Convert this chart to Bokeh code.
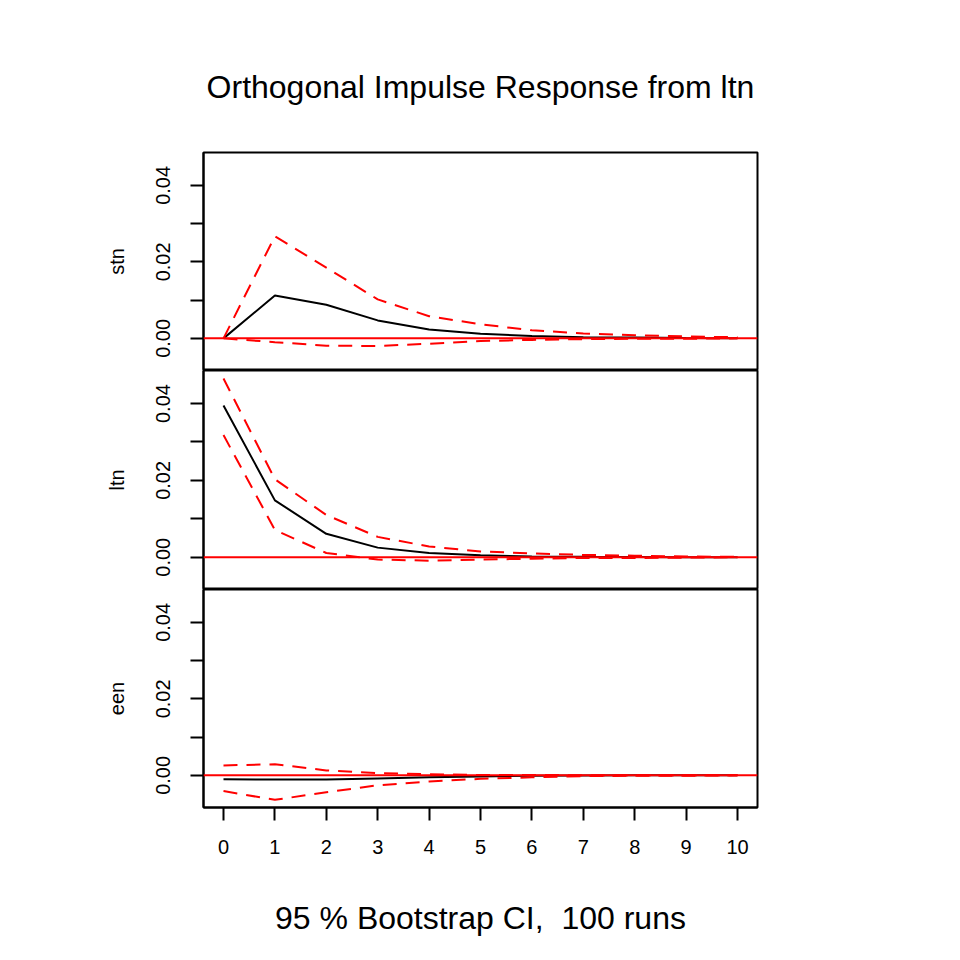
from bokeh.plotting import figure
from bokeh.models import Range1d, FixedTicker, Span, Title
from bokeh.layouts import column
from bokeh.embed import file_html
from bokeh.resources import INLINE

steps = list(range(11))

stn_irf = [0.0, 0.0112, 0.0088, 0.0047, 0.0023, 0.0012, 0.0006, 0.0003, 0.0002, 0.0001, 0.00005]
stn_upper = [0.0, 0.0267, 0.0185, 0.0102, 0.0058, 0.0037, 0.0021, 0.0013, 0.0008, 0.0005, 0.0003]
stn_lower = [0.0, -0.0010, -0.0019, -0.0020, -0.0014, -0.0007, -0.0004, -0.0002, -0.0001, -0.0001, 0.0]

ltn_irf = [0.0395, 0.0148, 0.0061, 0.0025, 0.0011, 0.0005, 0.0002, 0.0001, 0.00005, 0.00002, 0.00001]
ltn_upper = [0.0465, 0.0203, 0.0110, 0.0053, 0.0028, 0.0015, 0.0010, 0.0006, 0.0004, 0.0002, 0.0001]
ltn_lower = [0.0318, 0.0071, 0.0011, -0.0006, -0.0009, -0.0006, -0.0004, -0.0002, -0.0002, -0.0001, 0.0]

een_irf = [-0.0010, -0.0011, -0.0011, -0.0008, -0.0005, -0.0003, -0.0001, -0.00005, 0.0, 0.0, 0.0]
een_upper = [0.0026, 0.0029, 0.0013, 0.0006, 0.0003, 0.0001, 0.0001, 0.00005, 0.0, 0.0, 0.0]
een_lower = [-0.0041, -0.0064, -0.0044, -0.0026, -0.0016, -0.0009, -0.0005, -0.0002, -0.0001, -0.0001, 0.0]

panel_names = ["stn", "ltn", "een"]
y_ticks = [0.0, 0.01, 0.02, 0.03, 0.04]
y_tick_labels = {0.0: "0.00", 0.01: "", 0.02: "0.02", 0.03: "", 0.04: "0.04"}
x_ticks = list(range(11))
title_text = "Orthogonal Impulse Response from ltn"
xlab_text = "95 % Bootstrap CI,\u00a0 100 runs"

FONT = "Liberation Sans"
W = 940
LEFT = 203
FRAME_W = 554
RIGHT = W - LEFT - FRAME_W

series = [
    (stn_irf, stn_upper, stn_lower),
    (ltn_irf, ltn_upper, ltn_lower),
    (een_irf, een_upper, een_lower),
]

figs = []
for i, (name, (irf, up, lo)) in enumerate(zip(panel_names, series)):
    top = 152 if i == 0 else 0
    bottom = 140 if i == 2 else 0
    frame_h = 219 if i == 1 else 218
    kw = {}
    if i == 0:
        kw["title"] = Title(text=title_text, align="center", text_font=FONT,
                            text_font_size="32px", text_font_style="normal",
                            text_color="black", standoff=95)
    else:
        kw["title"] = None
    p = figure(width=W, height=frame_h + top + bottom, output_backend="svg",
               toolbar_location=None,
               x_range=Range1d(-0.389, 10.389), y_range=Range1d(-0.0084, 0.0486),
               min_border_left=LEFT, min_border_right=RIGHT,
               min_border_top=top, min_border_bottom=bottom, **kw)
    p.background_fill_color = "white"
    p.border_fill_color = "white"
    p.outline_line_color = "black"
    p.outline_line_width = 2
    p.grid.visible = False

    p.line(steps, irf, line_color="black", line_width=2)
    p.line(steps, up, line_color="red", line_width=2, line_dash="14 9")
    p.line(steps, lo, line_color="red", line_width=2, line_dash="14 9")
    p.add_layout(Span(location=0, dimension="width", line_color="red", line_width=2))

    ya = p.yaxis[0]
    ya.ticker = FixedTicker(ticks=y_ticks, minor_ticks=[])
    ya.major_label_overrides = y_tick_labels
    ya.major_label_orientation = "vertical"
    ya.major_label_text_font = FONT
    ya.major_label_text_font_size = "20px"
    ya.major_label_text_color = "black"
    ya.major_tick_out = 13
    ya.major_tick_in = 0
    ya.major_tick_line_width = 2
    ya.axis_line_width = 2
    ya.major_label_standoff = 20
    ya.axis_label = name
    ya.axis_label_text_font = FONT
    ya.axis_label_text_font_size = "20px"
    ya.axis_label_text_font_style = "normal"
    ya.axis_label_text_color = "black"
    ya.axis_label_standoff = 26

    xa = p.xaxis[0]
    if i < 2:
        xa.visible = False
    else:
        xa.ticker = FixedTicker(ticks=x_ticks, minor_ticks=[])
        xa.major_label_text_font = FONT
        xa.major_label_text_font_size = "20px"
        xa.major_label_text_color = "black"
        xa.major_tick_out = 13
        xa.major_tick_in = 0
        xa.major_tick_line_width = 2
        xa.axis_line_width = 2
        xa.major_label_standoff = 19
        xa.axis_label = xlab_text
        xa.axis_label_text_font = FONT
        xa.axis_label_text_font_size = "32px"
        xa.axis_label_text_font_style = "normal"
        xa.axis_label_text_color = "black"
        xa.axis_label_standoff = 43

    figs.append(p)

layout = column(*figs, spacing=0)
open("out.html", "w").write(file_html(layout, INLINE))
